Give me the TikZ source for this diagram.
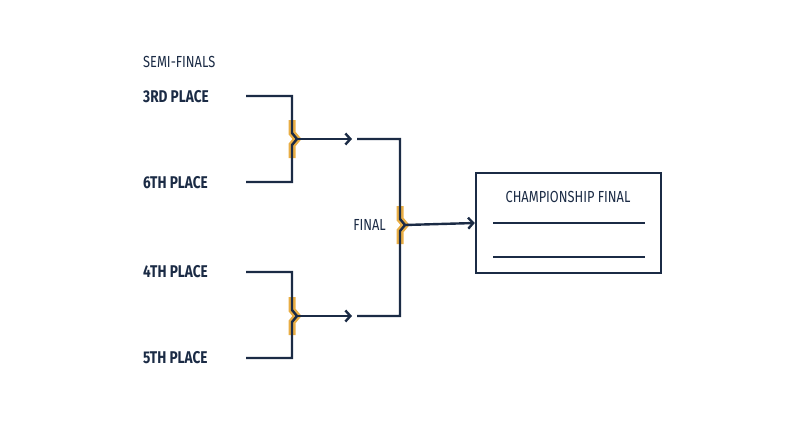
\documentclass[tikz,border=0pt]{standalone}
\usepackage{fontspec}
\setmainfont{Fira Sans}
\usetikzlibrary{positioning,calc}
\definecolor{navy}{HTML}{1B2B45}
\definecolor{gold}{HTML}{E9AE45}
\newcommand{\cnd}[1]{\scalebox{0.8}[1]{#1}}
\tikzset{
  wire/.style={draw=navy,line width=2.4pt},
  glow/.style={draw=gold,line width=7pt},
  team/.style={anchor=west,inner sep=0pt,text=navy,font=\fontsize{17}{17}\selectfont\bfseries},
  tag/.style={inner sep=0pt,text=navy,font=\fontsize{16}{16}\selectfont},
  tip/.style={-{Straight Barb[length=5pt,width=11pt,line width=2.4pt]}}
}
\usetikzlibrary{arrows.meta}
\begin{document}
\begin{tikzpicture}[x=1pt,y=-1pt]
  \useasboundingbox (0,0) rectangle (800,447);
  % labels
  \node[tag,anchor=west] (semi) at (143,62) {\cnd{SEMI-FINALS}};
  \node[team] (p3) at (143,97) {\cnd{3RD PLACE}};
  \node[team] (p6) at (143,183) {\cnd{6TH PLACE}};
  \node[team] (p4) at (143,272) {\cnd{4TH PLACE}};
  \node[team] (p5) at (143,358) {\cnd{5TH PLACE}};
  \node[tag,anchor=east] (fin) at (386,225) {\cnd{FINAL}};
  \node[draw=navy,line width=2.4pt,minimum width=185pt,minimum height=100pt,inner sep=0pt] (champ) at (568.5,223) {};
  \node[tag] (ctitle) at (568,197) {\cnd{CHAMPIONSHIP FINAL}};
  \draw[wire] (493,223) -- (645,223) (493,257) -- (645,257);
  % joints
  \foreach \jx/\jy [count=\k] in {292/139,292/316,400/225}{
    \coordinate (j\k) at (\jx,\jy);
    \draw[glow] (\jx,\jy-19) -- (\jx,\jy-6) -- (\jx+5,\jy) -- (\jx,\jy+6) -- (\jx,\jy+19);
  }
  % upper semi
  \draw[wire] (246,96) -- (292,96) -- ($(j1)+(0,-6)$) -- ($(j1)+(5,0)$) -- ($(j1)+(0,6)$) -- (292,182) -- (246,182);
  \draw[wire] (246,272) -- (292,272) -- ($(j2)+(0,-6)$) -- ($(j2)+(5,0)$) -- ($(j2)+(0,6)$) -- (292,358) -- (246,358);
  \draw[wire,tip] ($(j1)+(5,0)$) -- (352,139);
  \draw[wire,tip] ($(j2)+(5,0)$) -- (352,316);
  % final
  \draw[wire] (357,139) -- (400,139) -- ($(j3)+(0,-6)$) -- ($(j3)+(5,0)$) -- ($(j3)+(0,6)$) -- (400,316) -- (357,316);
  \draw[wire,tip] ($(j3)+(5,0)$) -- (champ.west);
\end{tikzpicture}
\end{document}
